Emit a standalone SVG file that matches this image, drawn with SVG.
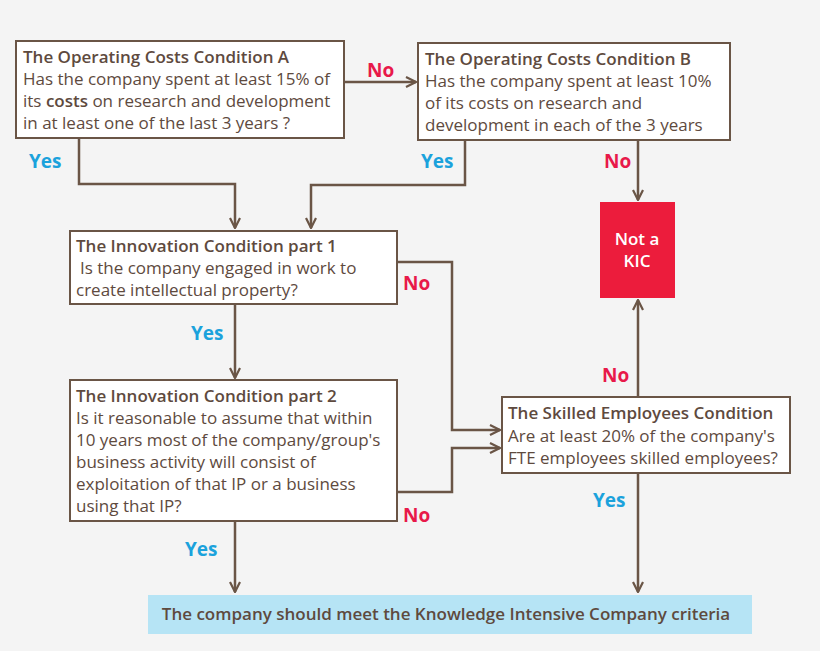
<svg xmlns="http://www.w3.org/2000/svg" width="820" height="651" viewBox="0 0 820 651">
<style>
text{font-family:"Open Sans","DejaVu Sans",sans-serif;font-size:17px;fill:#5e4a3e}
.b{font-weight:600}
.box{fill:#fff;stroke:#6a5546;stroke-width:2}
.c{fill:none;stroke:#6a5546;stroke-width:2.5}
.no{fill:#e8194a;font-weight:bold;font-size:19px}
.yes{fill:#1ba2dc;font-weight:bold;font-size:19px}
</style>
<defs><marker id="a" viewBox="0 0 12 12" refX="11" refY="6" markerWidth="12" markerHeight="12" markerUnits="userSpaceOnUse" orient="auto"><path d="M1,1 L11,6 L1,11" fill="none" stroke="#6a5546" stroke-width="2.2"/></marker></defs>
<rect width="820" height="651" fill="#f4f4f4"/>
<g id="connectors">
<path class="c" d="M344,82 H416" marker-end="url(#a)"/>
<path class="c" d="M79,138 V184 H235 V228" marker-end="url(#a)"/>
<path class="c" d="M465,140 V185 H311 V228" marker-end="url(#a)"/>
<path class="c" d="M638,140 V200" marker-end="url(#a)"/>
<path class="c" d="M397,262 H452 V430 H500" marker-end="url(#a)"/>
<path class="c" d="M235,304 V378" marker-end="url(#a)"/>
<path class="c" d="M397,492 H452 V448 H500" marker-end="url(#a)"/>
<path class="c" d="M638,397 V300" marker-end="url(#a)"/>
<path class="c" d="M638,473 V592" marker-end="url(#a)"/>
<path class="c" d="M235,521 V592" marker-end="url(#a)"/>
<text class="no" x="367" y="77">No</text>
<text class="yes" x="29" y="168">Yes</text>
<text class="yes" x="421" y="168">Yes</text>
<text class="no" x="604" y="168">No</text>
<text class="no" x="403" y="290">No</text>
<text class="yes" x="191" y="340">Yes</text>
<text class="no" x="602" y="382">No</text>
<text class="no" x="403" y="522">No</text>
<text class="yes" x="593" y="507">Yes</text>
<text class="yes" x="185" y="556">Yes</text>
</g>
<g id="condA"><rect class="box" x="16" y="41" width="328" height="97"/>
<text x="23" y="63" class="b">The Operating Costs Condition A</text>
<text x="23" y="85">Has the company spent at least 15% of</text>
<text x="23" y="107">its <tspan class="b">costs</tspan> on research and development</text>
<text x="23" y="129">in at least one of the last 3 years ?</text></g>
<g id="condB"><rect class="box" x="418" y="43" width="312" height="97"/>
<text x="425" y="65" class="b">The Operating Costs Condition B</text>
<text x="425" y="87">Has the company spent at least 10%</text>
<text x="425" y="109">of its costs on research and</text>
<text x="425" y="131">development in each of the 3 years</text></g>
<g id="notkic"><rect x="600" y="202" width="75" height="96" fill="#ec1c3c"/>
<text x="637" y="245" text-anchor="middle" class="b" style="fill:#fff">Not a</text>
<text x="637" y="267" text-anchor="middle" class="b" style="fill:#fff">KIC</text></g>
<g id="inno1"><rect class="box" x="70" y="231" width="327" height="73"/>
<text x="76" y="252" class="b">The Innovation Condition part 1</text>
<text x="80" y="274">Is the company engaged in work to</text>
<text x="76" y="296">create intellectual property?</text></g>
<g id="inno2"><rect class="box" x="70" y="380" width="327" height="141"/>
<text x="76" y="402" class="b">The Innovation Condition part 2</text>
<text x="76" y="424">Is it reasonable to assume that within</text>
<text x="76" y="446">10 years most of the company/group's</text>
<text x="76" y="468">business activity will consist of</text>
<text x="76" y="490">exploitation of that IP or a business</text>
<text x="76" y="512">using that IP?</text></g>
<g id="skilled"><rect class="box" x="502" y="397" width="288" height="76"/>
<text x="508" y="419" class="b">The Skilled Employees Condition</text>
<text x="508" y="442">Are at least 20% of the company's</text>
<text x="508" y="464">FTE employees skilled employees?</text></g>
<g id="result"><rect x="148" y="595" width="604" height="39" fill="#b6e4f5"/>
<text x="446" y="620" text-anchor="middle" class="b">The company should meet the Knowledge Intensive Company criteria</text></g>
</svg>
